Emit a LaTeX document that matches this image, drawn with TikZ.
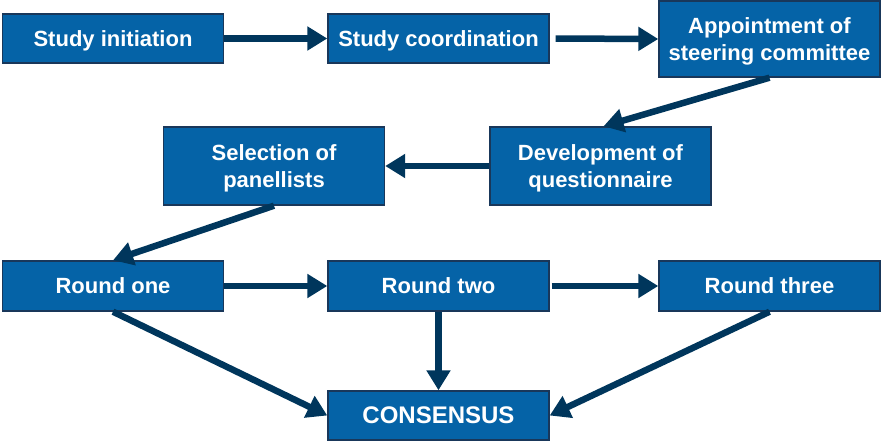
\documentclass[tikz,border=0pt]{standalone}
\usepackage{fontspec}
\setmainfont{Liberation Sans}
\usetikzlibrary{arrows.meta}
\definecolor{boxfill}{RGB}{5,99,167}
\definecolor{boxline}{RGB}{25,55,90}
\definecolor{arrowcol}{RGB}{0,54,92}
\begin{document}
\begin{tikzpicture}[x=1pt,y=1pt,
  stage/.style={draw=boxline, line width=1.4pt, fill=boxfill, text=white,
    minimum width=221pt, minimum height=49pt, inner sep=0pt, align=center,
    text depth=0pt, font=\fontsize{22}{26.5}\selectfont\bfseries},
  flow/.style={draw=arrowcol, line width=6.5pt,
    -{Triangle[length=20pt,width=23pt]}}]
\useasboundingbox (0,0) rectangle (881,-441);
% first row
\node[stage] (init)  at (113,-38.5)   {Study initiation};
\node[stage] (coord) at (438.5,-38.5) {Study coordination};
\node[stage, minimum height=76pt] (appt) at (769.5,-39) {Appointment of\\steering committee};
% second row
\node[stage, minimum height=78pt] (dev) at (600.5,-166) {Development of\\questionnaire};
\node[stage, minimum height=78pt] (sel) at (274,-166)   {Selection of\\panellists};
% third row
\node[stage, minimum height=50pt] (r1) at (113,-286)   {Round one};
\node[stage, minimum height=50pt] (r2) at (438.5,-286) {Round two};
\node[stage, minimum height=50pt] (r3) at (769.5,-286) {Round three};
% outcome
\node[stage, font=\fontsize{24}{28}\selectfont\bfseries] (cons) at (438.5,-415.5) {CONSENSUS};
% connectors
\draw[flow] (init.east) -- (coord.west);
\draw[flow, shorten <=6pt] (coord.east) -- (appt.west);
\draw[flow] (appt.south) -- ([xshift=3pt]dev.north);
\draw[flow] (dev.west) -- (sel.east);
\draw[flow] (sel.south) -- (r1.north);
\draw[flow] (r1.east) -- (r2.west);
\draw[flow, shorten <=2pt] (r2.east) -- (r3.west);
\draw[flow] (r1.south) -- (cons.west);
\draw[flow] (r2.south) -- (cons.north);
\draw[flow] (r3.south) -- (cons.east);
\end{tikzpicture}
\end{document}
